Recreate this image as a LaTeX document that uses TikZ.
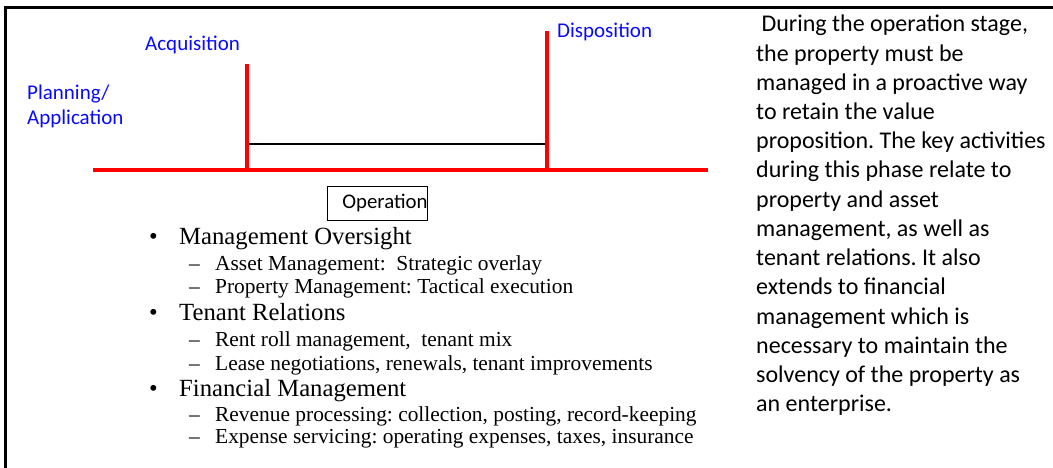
\documentclass[tikz,border=0pt]{standalone}
\usepackage{fontspec}
\setmainfont{Liberation Serif}
\newfontfamily\calib{Carlito}
\frenchspacing
\definecolor{lblblue}{RGB}{10,10,250}
\definecolor{tlred}{RGB}{255,0,0}
\tikzset{
  frameline/.style={line width=2.3pt, black},
  redline/.style={line width=3.4pt, tlred},
  blackbar/.style={line width=2.6pt, black},
  bluelbl/.style={anchor=base west, inner sep=0pt, text=lblblue, font=\calib\fontsize{21}{25.5}\selectfont},
  opbox/.style={draw, line width=0.8pt, anchor=west, inner xsep=0pt, inner ysep=0pt, minimum height=34pt, font=\calib\fontsize{20.8}{25}\selectfont},
  mainitem/.style={anchor=base west, inner sep=0pt, font=\fontsize{24.7}{28}\selectfont},
  subitem/.style={anchor=base west, inner sep=0pt, font=\fontsize{21.4}{25}\selectfont},
  desc/.style={anchor=base west, inner sep=0pt, font=\calib\fontsize{24}{29}\selectfont},
}
\begin{document}
\begin{tikzpicture}[x=1pt, y=-1pt]
\useasboundingbox (0,0) rectangle (1053,468);
% frame
\draw[frameline] (5.5,470) -- (5.5,7.5) -- (1055,7.5);
% timeline
\coordinate (L) at (93,170);
\coordinate (R) at (708,170);
\coordinate (A0) at (247,171);
\coordinate (A1) at (247,64);
\coordinate (D0) at (547,171);
\coordinate (D1) at (547,31);
\coordinate (B0) at (249,144);
\coordinate (B1) at (549,144);
\draw[blackbar] (B0) -- (B1);
\draw[redline] (L) -- (R);
\draw[redline] (A0) -- (A1);
\draw[redline] (D0) -- (D1);
% labels
\node[bluelbl] (acq) at (145,51) {Acquisition};
\node[bluelbl] (disp) at (557,37.5) {Disposition};
\node[bluelbl] (plan1) at (27,100) {Planning/};
\node[bluelbl] (plan2) at (27,124.5) {Application};
% operation box
\node[opbox] (op) at (327,203) {\hspace{15pt}Operation\hspace{3pt}};
% bullet list
\foreach \y/\t [count=\i] in {244.3/Management Oversight, 320/Tenant Relations, 396.7/Financial Management}{
  \node[mainitem] (bul\i) at (149,\y) {\textbullet};
  \node[mainitem] (main\i) at (179,\y) {\t};
}
\foreach \y/\t [count=\i] in {270/{Asset Management:\ \ Strategic overlay}, 293/{Property Management:\ Tactical execution}, 346.7/{Rent roll management,\ \ tenant mix}, 370/{Lease negotiations, renewals, tenant improvements}, 421.7/{Revenue processing: collection, posting, record-keeping}, 443.5/{Expense servicing: operating expenses, taxes, insurance}}{
  \node[subitem] (dash\i) at (189,\y) {--};
  \node[subitem] (sub\i) at (215,\y) {\t};
}
% description text
\node[desc] (d1) at (756,32) {\ During the operation stage,};
\foreach \t [count=\i from 2] in {the property must be, managed in a proactive way, to retain the value, proposition. The key activities, during this phase relate to, property and asset, {management, as well as}, tenant relations. It also, extends to financial, management which is, necessary to maintain the, solvency of the property as, an enterprise.}{
  \node[desc] (d\i) at (756,{32+(\i-1)*29.2}) {\t};
}
\end{tikzpicture}
\end{document}
